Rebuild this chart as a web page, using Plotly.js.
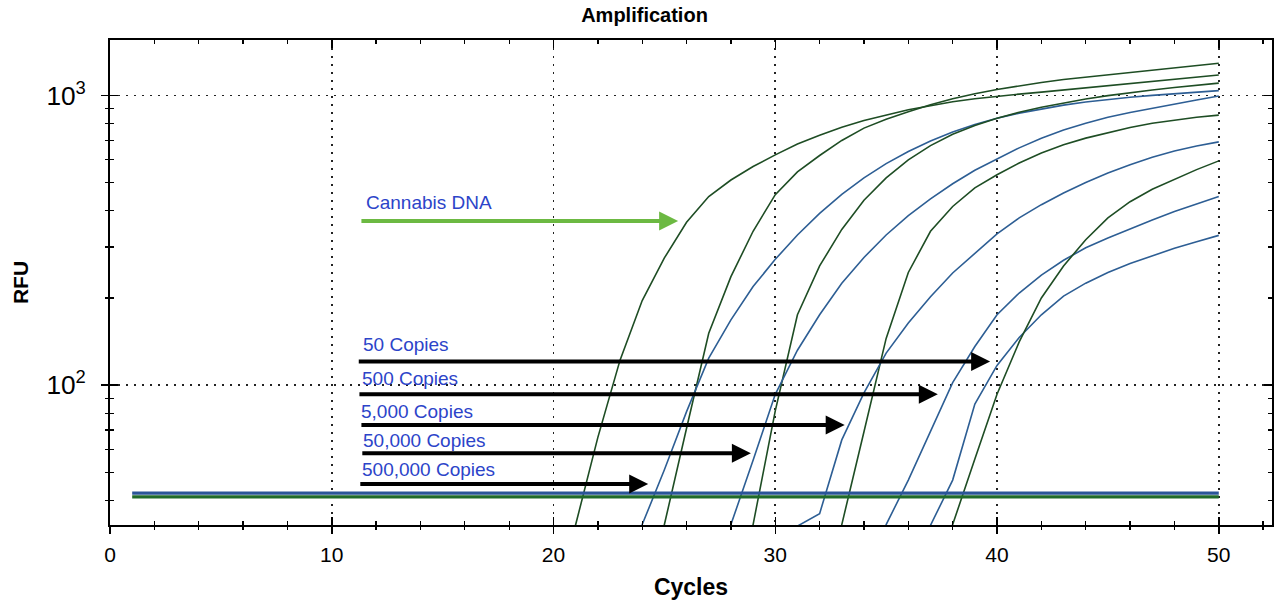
<!DOCTYPE html>
<html>
<head>
<meta charset="utf-8">
<script src="https://cdn.plot.ly/plotly-3.0.1.min.js"></script>
<style>
  html, body { margin: 0; padding: 0; background: #fff; }
  #chart { width: 1280px; height: 608px; }
</style>
</head>
<body>
<div id="chart"></div>
<script>
// cannabis samples (green) - first cycle of each series, then RFU per cycle
var sample1Start = 20;
var sample1 = [17, 33, 66, 122, 196, 275, 365, 448, 511, 569, 624, 680, 730, 778, 820, 858, 893, 922, 952, 975, 995, 1012, 1028, 1045, 1062, 1080, 1098, 1115, 1135, 1156, 1178];
var sample2Start = 24;
var sample2 = [16, 33, 71, 151, 237, 340, 455, 545, 621, 700, 772, 828, 880, 930, 975, 1015, 1050, 1082, 1110, 1136, 1158, 1180, 1205, 1228, 1250, 1272, 1294];
var sample3Start = 28;
var sample3 = [15, 33, 81.5, 175, 258, 345, 435, 520, 600, 672, 735, 788, 835, 876, 912, 944, 973, 1000, 1024, 1046, 1066, 1086, 1104];
var sample4Start = 32;
var sample4 = [15, 33, 69, 145, 245, 340, 414, 480, 533, 585, 633, 676, 713, 745, 776, 803, 824, 842, 856];
var sample5Start = 37;
var sample5 = [15, 33, 55.6, 93, 141, 200, 258, 318, 378, 430, 475, 515, 555, 595];

// standards (blue)
var std500kStart = 23;
var std500k = [17, 33, 51, 81, 124, 168, 219, 272, 330, 392, 456, 520, 582, 641, 697, 748, 795, 835, 870, 900, 927, 950, 970, 987, 1002, 1015, 1028, 1040];
var std50kStart = 27;
var std50k = [16, 33, 55, 93, 132, 175, 225, 276, 330, 385, 440, 496, 552, 605, 660, 712, 760, 803, 842, 874, 905, 935, 966, 997];
var std5kStart = 30;
var std5k = [15, 32.6, 36, 64.7, 94, 129, 164, 202, 244, 286, 333, 378, 420, 461, 501, 540, 577, 612, 644, 670, 692];
var std500Start = 34;
var std500 = [15, 33, 47, 69, 102, 136, 175, 208, 240, 270, 298, 322, 347, 372, 398, 423, 448];
var std50Start = 36;
var std50 = [15, 32.8, 47, 86, 117, 146, 175, 203, 225, 245, 263, 280, 297, 313, 329];

// baselines
var baseCycles = [1, 50];
var baseBlue = [42.4, 42.4];
var baseGreen = [41.1, 41.1];

// arrow labels
var copyLabels = ['50 Copies', '500 Copies', '5,000 Copies', '50,000 Copies', '500,000 Copies'];
var sampleLabel = 'Cannabis DNA';

var GREEN = '#1e4d24';
var BLUE = '#2d5e94';

function series(start, vals, color) {
    return {
        x: vals.map(function (v, i) { return start + i; }),
        y: vals,
        type: 'scatter',
        mode: 'lines',
        line: { color: color, width: 1.6 },
        showlegend: false,
        hoverinfo: 'skip'
    };
}

var data = [
    series(sample1Start, sample1, GREEN),
    series(sample2Start, sample2, GREEN),
    series(std500kStart, std500k, BLUE),
    series(sample3Start, sample3, GREEN),
    series(std50kStart, std50k, BLUE),
    series(sample4Start, sample4, GREEN),
    series(std5kStart, std5k, BLUE),
    series(std500Start, std500, BLUE),
    series(std50Start, std50, BLUE),
    series(sample5Start, sample5, GREEN),
    { x: baseCycles, y: baseGreen, type: 'scatter', mode: 'lines', line: { color: '#1f6a2a', width: 3.2 }, showlegend: false, hoverinfo: 'skip' },
    { x: baseCycles, y: baseBlue, type: 'scatter', mode: 'lines', line: { color: '#2a5598', width: 3.2 }, showlegend: false, hoverinfo: 'skip' },
    // empty trace so the outer tick axes get drawn
    { x: [null], y: [null], xaxis: 'x2', yaxis: 'y2', type: 'scatter', mode: 'lines', showlegend: false, hoverinfo: 'skip' }
];

// arrow placement: tip cycle, tail cycle, RFU level, label RFU level
var arrowTips = [39.69, 37.33, 33.13, 28.9, 24.27];
var arrowTails = [11.15, 11.18, 11.27, 11.31, 11.22];
var arrowLevels = [120.6, 93.1, 72.9, 58.2, 45.6];
var labelLevels = [137.8, 105.1, 81.1, 64.2, 51.3];
var labelX = [11.31, 11.28, 11.22, 11.31, 11.28];

var FONT = 'Liberation Sans, Arial, sans-serif';
var LABEL_BLUE = '#2c44c9';
var annotations = [];
copyLabels.forEach(function (t, i) {
    annotations.push({
        xref: 'x', yref: 'y', axref: 'x', ayref: 'y',
        x: arrowTips[i], y: Math.log10(arrowLevels[i]),
        ax: arrowTails[i], ay: Math.log10(arrowLevels[i]),
        text: '', showarrow: true, arrowhead: 2, arrowsize: 0.95, arrowwidth: 4,
        arrowcolor: '#000', standoff: 0, startstandoff: 0
    });
    annotations.push({
        xref: 'x', yref: 'y', x: labelX[i], y: Math.log10(labelLevels[i]),
        text: t, showarrow: false, xanchor: 'left', yanchor: 'middle',
        font: { family: FONT, size: 19, color: LABEL_BLUE }
    });
});
annotations.push({
    xref: 'x', yref: 'y', axref: 'x', ayref: 'y',
    x: 25.62, y: Math.log10(369), ax: 11.27, ay: Math.log10(369),
    text: '', showarrow: true, arrowhead: 2, arrowsize: 0.95, arrowwidth: 4,
    arrowcolor: '#6cb942', standoff: 0, startstandoff: 0
});
annotations.push({
    xref: 'x', yref: 'y', x: 11.45, y: Math.log10(428),
    text: sampleLabel, showarrow: false, xanchor: 'left', yanchor: 'middle',
    font: { family: FONT, size: 19, color: LABEL_BLUE }
});

var XR = [0, 52.4];
var YR = [1.517, 3.192];

var layout = {
    width: 1280,
    height: 608,
    margin: { l: 110, r: 8, t: 40, b: 83 },
    paper_bgcolor: '#fff',
    plot_bgcolor: '#fff',
    hovermode: false,
    font: { family: FONT, color: '#000' },
    title: {
        text: '<b>Amplification</b>',
        font: { family: FONT, size: 20, color: '#000' },
        xref: 'paper', x: 0.46, xanchor: 'center',
        yref: 'container', y: 0.975, yanchor: 'middle'
    },
    xaxis: {
        range: XR, dtick: 10, tick0: 0,
        showline: true, linecolor: '#000', linewidth: 2, mirror: 'ticks',
        ticks: 'inside', ticklen: 8, tickwidth: 1.5, tickcolor: '#000',
        minor: { dtick: 2, ticks: 'inside', ticklen: 4, tickwidth: 1.3, tickcolor: '#000', showgrid: false },
        showgrid: true, gridcolor: '#222', gridwidth: 1.6, griddash: '2px,6px',
        zeroline: false,
        tickfont: { family: FONT, size: 21, color: '#000' },
        ticklabelstandoff: 10,
        title: { text: '<b>Cycles</b>', font: { family: FONT, size: 23, color: '#000' }, standoff: 14 }
    },
    yaxis: {
        type: 'log', range: YR, dtick: 1, exponentformat: 'power',
        showline: true, linecolor: '#000', linewidth: 2, mirror: 'ticks',
        ticks: 'inside', ticklen: 8, tickwidth: 1.5, tickcolor: '#000',
        minor: { dtick: 'D1', ticks: 'inside', ticklen: 4, tickwidth: 1.3, tickcolor: '#000', showgrid: false },
        showgrid: true, gridcolor: '#222', gridwidth: 1.6, griddash: '2px,6px',
        zeroline: false,
        tickfont: { family: FONT, size: 21, color: '#000' },
        ticklabelstandoff: 18,
        title: { text: '<b>RFU</b>', font: { family: FONT, size: 21, color: '#000' }, standoff: 12 }
    },
    xaxis2: {
        overlaying: 'x', anchor: 'y2', side: 'bottom', range: XR, dtick: 10, tick0: 0,
        showline: false, showgrid: false, zeroline: false, showticklabels: false,
        ticks: 'outside', ticklen: 8, tickwidth: 1.5, tickcolor: '#000',
        minor: { dtick: 2, ticks: 'outside', ticklen: 4, tickwidth: 1.3, tickcolor: '#000', showgrid: false }
    },
    yaxis2: {
        overlaying: 'y', anchor: 'x2', side: 'left', type: 'log', range: YR, dtick: 1,
        showline: false, showgrid: false, zeroline: false, showticklabels: false,
        ticks: 'outside', ticklen: 8, tickwidth: 1.5, tickcolor: '#000',
        minor: { dtick: 'D1', ticks: 'outside', ticklen: 4, tickwidth: 1.3, tickcolor: '#000', showgrid: false }
    },
    annotations: annotations
};

Plotly.newPlot('chart', data, layout, { displayModeBar: false, staticPlot: true });
</script>
</body>
</html>
